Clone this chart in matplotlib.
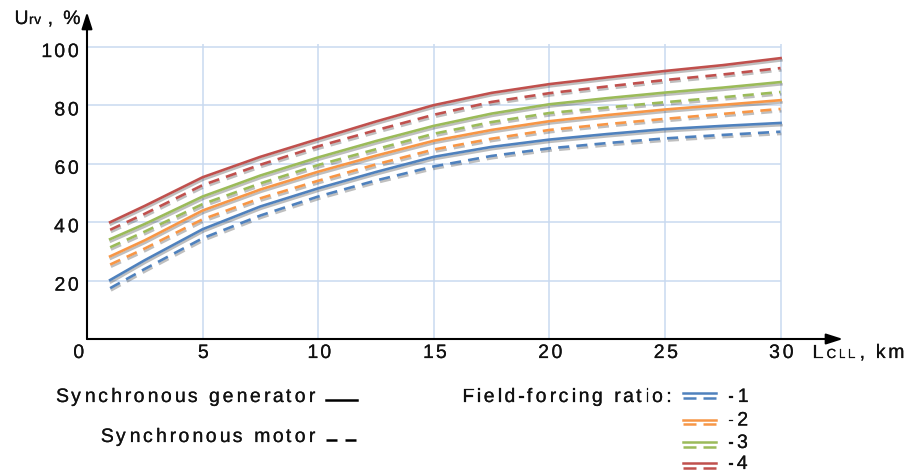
import numpy as np
import matplotlib
matplotlib.use("Agg")
import matplotlib.pyplot as plt
from matplotlib.lines import Line2D
from matplotlib import patheffects as pe
from matplotlib.font_manager import FontProperties, findfont
from matplotlib.ft2font import FT2Font

W, H = 907, 477
FONT = "Liberation Sans"
TXT = "#111111"

# line length, km
x_km = [1, 2.5, 5, 7.5, 10, 12.5, 15, 17.5, 20, 22.5, 25, 27.5, 30]

# U_rv, % -- synchronous generator (solid) / synchronous motor (dashed)
gen_1 = [20.2, 27.0, 37.6, 45.4, 51.6, 57.2, 62.4, 65.8, 68.3, 70.2, 71.9, 73.0, 74.0]
mot_1 = [17.4, 24.0, 34.5, 42.3, 48.8, 54.3, 59.1, 62.7, 65.3, 67.1, 68.7, 69.9, 71.0]
gen_2 = [28.3, 33.8, 44.0, 51.2, 57.3, 62.8, 67.9, 71.6, 74.6, 76.7, 78.6, 80.2, 81.8]
mot_2 = [25.5, 31.0, 41.0, 48.2, 54.2, 59.8, 64.9, 68.6, 71.6, 73.6, 75.4, 77.1, 78.8]
gen_3 = [34.2, 39.4, 48.8, 56.0, 62.2, 67.8, 73.0, 77.2, 80.4, 82.5, 84.4, 86.1, 88.0]
mot_3 = [31.4, 36.8, 46.2, 53.3, 59.6, 65.0, 70.3, 74.3, 77.4, 79.3, 81.1, 82.8, 84.6]
gen_4 = [40.0, 45.6, 55.4, 62.4, 68.5, 74.5, 80.1, 84.3, 87.3, 89.6, 91.8, 93.8, 96.2]
mot_4 = [37.4, 42.9, 52.7, 59.7, 66.0, 71.5, 76.8, 81.2, 84.2, 86.5, 88.7, 90.6, 92.8]

colors = ["#4f81bd", "#f79646", "#9bbb59", "#c0504d"]
ratio_labels = ["-1", "-2", "-3", "-4"]
x_ticks = [5, 10, 15, 20, 25, 30]
y_ticks = [20, 40, 60, 80, 100]

fig = plt.figure(figsize=(W / 100, H / 100), dpi=100)
ax = fig.add_axes([87 / W, (H - 340) / H, (843 - 87) / W, (340 - 13) / H])
ax.set_xlim(0, 32.7)
ax.set_ylim(0, 112)
ax.set_axis_off()

_font = FT2Font(findfont(FontProperties(family=FONT)))
text_fx = [pe.withStroke(linewidth=0.15, foreground=TXT)]


def px(x, y):
    return x / W, 1 - y / H


def put(x, y, s, size=14, ha="left", track=2.8):
    # text with letter spacing, x/y in pixels from top-left, y = baseline
    _font.set_size(size, 100)
    glyphs = [_font.load_char(ord(c)) for c in s]
    adv = [g.linearHoriAdvance / 65536 for g in glyphs]
    total = sum(adv) + track * (len(s) - 1)
    if ha == "right":
        x -= total
    elif ha == "center":
        x -= total / 2
    for c, g, a in zip(s, glyphs, adv):
        if c != " ":
            fig.text(*px(x + g.horiBearingX / 64, y), c, fontsize=size,
                     family=FONT, va="baseline", ha="left", color=TXT,
                     path_effects=text_fx)
        x += a + track


def data_px(xv, yv):
    dx, dy = ax.transData.transform((xv, yv))
    return dx, H - dy


# grid
grid_c = "#c9daf0"
ax.vlines(x_ticks, 0, 101.2, color=grid_c, lw=1.1, zorder=0)
ax.hlines(y_ticks, 0, 30, color=grid_c, lw=1.1, zorder=0)

# axes with arrows
arrow = dict(arrowstyle="-|>,head_length=0.5,head_width=0.16", color="black",
             lw=1.5, shrinkA=0, shrinkB=0, mutation_scale=20)
ax.annotate("", xy=(1, 0), xytext=(0, 0), xycoords="axes fraction", arrowprops=arrow)
ax.annotate("", xy=(0, 1), xytext=(0, 0), xycoords="axes fraction", arrowprops=arrow)

# curves
shadow = [pe.SimpleLineShadow(offset=(0.6, -1.6), shadow_color="black", alpha=0.25),
          pe.Normal()]
gens = [gen_1, gen_2, gen_3, gen_4]
mots = [mot_1, mot_2, mot_3, mot_4]
for g, m, c in zip(gens, mots, colors):
    ax.plot(x_km, g, color=c, lw=1.9, path_effects=shadow, zorder=3,
            solid_joinstyle="round")
    ax.plot(x_km, m, color=c, lw=1.9, dashes=(4.2, 2.7), path_effects=shadow, zorder=3)

# tick labels
for t in x_ticks:
    xp, _ = data_px(t, 0)
    put(xp, 359, str(t), ha="center")
for t in y_ticks:
    _, yp = data_px(0, t)
    put(78, yp + 10, str(t), ha="right")
put(78, 359, "0", ha="center")

# axis titles
put(13, 25, "U")
put(28, 25, "rv", size=10, track=1.5)
put(46, 25, ", %")
put(811, 359, "L")
put(826, 359, "CLL", size=9.5, track=1.8)
put(858, 359, ", km")

# legend: line type
put(314, 403, "Synchronous generator", ha="right")
put(314, 443, "Synchronous motor", ha="right")
fig.add_artist(Line2D([326 / W, 357 / W], [1 - 400.7 / H] * 2, color="black", lw=1.8))
fig.add_artist(Line2D([326 / W, 357 / W], [1 - 440.7 / H] * 2, color="black", lw=1.8,
                      dashes=(4.4, 3.2)))

# legend: field-forcing ratio
put(461, 403, "Field-forcing ratio:")
solid_y = [394.3, 420.5, 442.7, 464.3]
label_y = [403, 426.5, 449, 470]
for c, lab, sy, ly in zip(colors, ratio_labels, solid_y, label_y):
    fig.add_artist(Line2D([683 / W, 716 / W], [1 - sy / H] * 2, color=c, lw=1.8))
    fig.add_artist(Line2D([683 / W, 716 / W], [1 - (sy + 4.8) / H] * 2, color=c, lw=1.8,
                          dashes=(5.2, 2.8)))
    put(727, ly, lab)

fig.savefig("out.png", dpi=100)
